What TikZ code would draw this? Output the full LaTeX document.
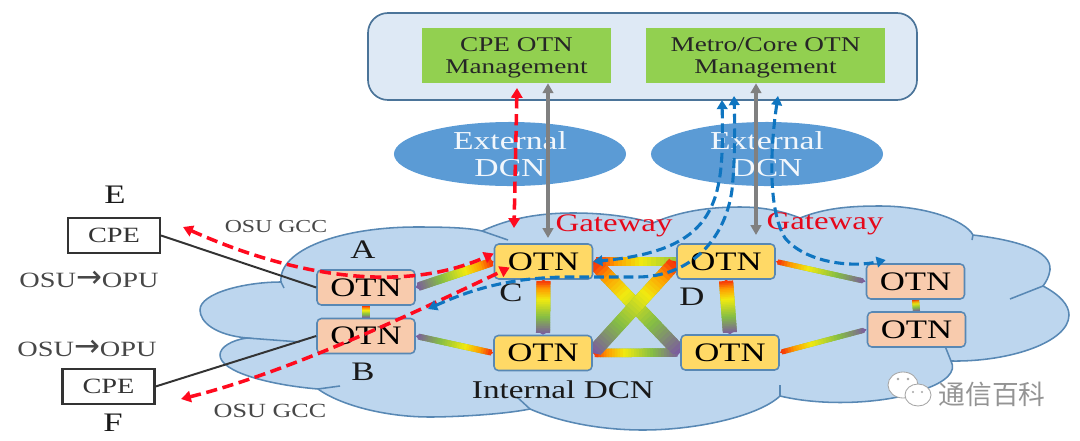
\documentclass[tikz,border=0pt]{standalone}
\usepackage{fontspec}
\setmainfont[FakeStretch=1.3]{Liberation Serif}
\newfontfamily\cjkfont{Noto Sans CJK SC}
\newfontfamily\arrowfont{DejaVu Sans}
\usetikzlibrary{shapes.geometric,arrows.meta,backgrounds,calc}
\definecolor{cloudfill}{RGB}{189,214,238}
\definecolor{cloudline}{RGB}{88,136,180}
\definecolor{topfill}{RGB}{222,233,245}
\definecolor{mgmtfill}{RGB}{146,208,80}
\definecolor{dcnfill}{RGB}{91,155,213}
\definecolor{cpefill}{RGB}{248,203,173}
\definecolor{corefill}{RGB}{255,217,102}
\definecolor{flowred}{RGB}{255,10,30}
\definecolor{flowblue}{RGB}{15,117,192}
\definecolor{linkpurple}{RGB}{123,92,158}
\definecolor{linkgreen}{RGB}{132,189,69}
\definecolor{linkyellow}{RGB}{240,234,16}
\definecolor{linkorange}{RGB}{255,154,0}
\definecolor{linkred}{RGB}{245,48,10}
\newcommand{\setsegcol}[1]{
  \ifdim#1pt<.3pt
    \pgfmathsetmacro{\p}{100*#1/.3}\colorlet{segcol}{linkgreen!\p!linkpurple}
  \else\ifdim#1pt<.62pt
    \pgfmathsetmacro{\p}{100*(#1-.3)/.32}\colorlet{segcol}{linkyellow!\p!linkgreen}
  \else\ifdim#1pt<.82pt
    \pgfmathsetmacro{\p}{100*(#1-.62)/.2}\colorlet{segcol}{linkorange!\p!linkyellow}
  \else
    \pgfmathsetmacro{\p}{100*(#1-.82)/.14}\colorlet{segcol}{linkred!\p!linkorange}
  \fi\fi\fi
}
\newcommand{\otnsegs}[5]{
  \foreach \i in {#4,...,#5}{
    \pgfmathsetmacro{\ta}{(\i-1)/32}
    \pgfmathsetmacro{\tb}{min(\i/32+.01,1)}
    \setsegcol{\ta}
    \draw[line width=#3,segcol] ($(#1)!\ta!(#2)$) -- ($(#1)!\tb!(#2)$);
  }
}
% purple end first, red end second
\newcommand{\otnlink}[3]{
  \draw[line width=#3,linkgreen] (#1) -- (#2);
  \otnsegs{#1}{#2}{#3}{1}{32}
}
\newcommand{\otnarrow}[3]{
  \draw[linktips,line width=#3] (#1) -- (#2);
  \otnsegs{#1}{#2}{#3}{2}{31}
}
\tikzset{x=.025cm}
\tikzset{y=-.025cm}
\tikzstyle{linktips}=[{Triangle[length=3pt,width=0pt 1,color=linkpurple]}-{Triangle[length=3pt,width=0pt 1,color=linkred]},linkgreen]
\tikzstyle{cloud}=[line width=1.1pt,draw=cloudline]
\tikzstyle{otn}=[draw=cloudline,line width=1.1pt,rounded corners=.11cm,minimum width=2.45cm,minimum height=.875cm,inner sep=0pt,font=\fontsize{19}{19}\selectfont]
\tikzstyle{cpeotn}=[otn,fill=cpefill]
\tikzstyle{coreotn}=[otn,fill=corefill]
\tikzstyle{mgmt}=[fill=mgmtfill,align=center,inner sep=0pt,minimum height=1.375cm,font=\fontsize{14.9}{16}\selectfont,text=black!85]
\tikzstyle{dcn}=[ellipse,fill=dcnfill,minimum width=5.8cm,minimum height=1.6cm,inner sep=0pt,align=center,text=white!92!dcnfill,font=\fontsize{18.4}{19}\selectfont]
\tikzstyle{cpe}=[draw=black!80,line width=1.5pt,minimum width=2.3cm,minimum height=.875cm,inner sep=0pt,font=\fontsize{15.5}{16}\selectfont,text=black!80]
\tikzstyle{letter}=[font=\fontsize{19}{19}\selectfont,text=black!90,inner sep=0pt]
\tikzstyle{note}=[text=black!72,inner sep=0pt]
\tikzstyle{gate}=[text=flowred!90!black,inner sep=0pt,font=\fontsize{18}{18}\selectfont]
\tikzstyle{mgmtflow}=[{Triangle[length=7pt,width=7.5pt]}-{Triangle[length=7pt,width=7.5pt]},line width=2.5pt,black!50]
\tikzstyle{redflow}=[{Triangle[length=7pt,width=8pt]}-{Triangle[length=7pt,width=8pt]},flowred,line width=2.5pt,dash pattern=on 8pt off 4pt]
\tikzstyle{blueflow}=[{Triangle[length=6.5pt,width=7.5pt]}-{Triangle[length=6.5pt,width=7.5pt]},flowblue,line width=2.2pt,dash pattern=on 7pt off 3.5pt]
\newcommand{\wing}{{\arrowfont\fontsize{22}{22}\selectfont →}}
\begin{document}
\begin{tikzpicture}
  \useasboundingbox (0,0) rectangle (1080,441);

  %% OTN nodes
  \draw (366,287.5) node[cpeotn] (otnA) {OTN};
  \draw (366,336) node[cpeotn] (otnB) {OTN};
  \draw (543.5,261.5) node[coreotn] (otnC) {OTN};
  \draw (726,261.5) node[coreotn] (otnD) {OTN};
  \draw (543,353) node[coreotn] (otnL) {OTN};
  \draw (730,352.5) node[coreotn] (otnM) {OTN};
  \draw (915.5,281.5) node[cpeotn] (otnR) {OTN};
  \draw (916.5,329.5) node[cpeotn] (otnS) {OTN};

  \begin{pgfonlayer}{background}
    %% Cloud
    \draw[cloud,fill=cloudfill] (281,282)
      .. controls (278,250) and (340,227) .. (417,227)
      .. controls (450,227) and (470,228) .. (482,231)
      .. controls (510,218) and (540,213) .. (573,213)
      .. controls (610,213) and (635,218) .. (653,223)
      .. controls (680,211) and (710,207) .. (740,207)
      .. controls (765,207) and (785,212) .. (800,218)
      .. controls (825,208) and (850,206) .. (880,206)
      .. controls (925,206) and (965,220) .. (973,235)
      .. controls (1015,240) and (1052,250) .. (1050,270)
      .. controls (1049,277) and (1046,282) .. (1043,286)
      .. controls (1060,295) and (1069,305) .. (1069,315)
      .. controls (1069,342) and (1010,362) .. (951,361)
      .. controls (957,372) and (945,382) .. (925,389)
      .. controls (895,402) and (830,408) .. (780,396)
      .. controls (760,415) and (700,430) .. (643,430)
      .. controls (600,430) and (560,422) .. (530,409)
      .. controls (500,415) and (450,417) .. (430,417)
      .. controls (385,417) and (340,405) .. (318,389)
      .. controls (270,385) and (220,372) .. (220,355)
      .. controls (220,347) and (232,340) .. (247,338)
      .. controls (215,335) and (200,322) .. (200,310)
      .. controls (200,293) and (245,282) .. (281,282) -- cycle;
    \draw[cloud] (281,282) -- (284,288);
    \draw[cloud] (482,231) -- (508,240);
    \draw[cloud] (973,235) -- (972,240);
    \draw[cloud] (1043,286) -- (1010,299);
    \draw[cloud] (951,361) -- (945,346);
    \draw[cloud] (780,396) -- (780,385);
    \draw[cloud] (530,409) -- (517,397);
    \draw[cloud] (318,389) -- (340,386);
    \draw[cloud] (247,338) -- (300,342);

    %% Gradient links
    \otnarrow{otnA.east}{otnC.west}{6pt}
    \otnarrow{otnB.east}{otnL.west}{4.2pt}
    \otnlink{otnB.north}{otnA.south}{5pt}
    \otnarrow{otnL.north}{otnC.south}{10pt}
    \otnarrow{otnM.north}{otnD.south}{10pt}
    \otnarrow{otnM.west}{otnL.east}{6pt}
    \otnarrow{otnD.center}{otnC.east}{6pt}
    \otnarrow{otnM.west}{otnC.east}{10pt}
    \otnarrow{otnL.east}{otnD.west}{10pt}
    \otnarrow{otnR.west}{otnD.east}{3.6pt}
    \otnarrow{otnS.west}{otnM.east}{3.6pt}
    \otnlink{otnS.north}{otnR.south}{5pt}
  \end{pgfonlayer}

  %% Management
  \draw[draw=cloudline!85!black,fill=topfill,line width=1.2pt,rounded corners=.5cm] (368,13) rectangle (917,100);
  \draw (516.5,55.5) node[mgmt,minimum width=4.725cm] (cpeMgmt) {\rule{0pt}{13pt}CPE OTN\\Management};
  \draw (765.5,55.5) node[mgmt,minimum width=5.975cm] (coreMgmt) {\rule{0pt}{13pt}Metro/Core OTN\\Management};
  \draw (510,154) node[dcn] (dcnA) {External\\DCN};
  \draw (767,154) node[dcn] (dcnB) {External\\DCN};

  %% CPE side
  \draw (114,235.5) node[cpe] (cpeE) {CPE};
  \draw (108.5,386.5) node[cpe] (cpeF) {CPE};
  \draw[line width=1.4pt,black!80] (cpeE.east) -- (otnA.west);
  \draw[line width=1.4pt,black!80] (cpeF.east) -- (otnB.west);

  %% Letters and texts
  \draw (363,250) node[letter] (labA) {A};
  \draw (363,372) node[letter] (labB) {B};
  \draw (511,293) node[letter] (labC) {C};
  \draw (692,297) node[letter] (labD) {D};
  \draw (115,195) node[letter] (labE) {E};
  \draw (113,423) node[letter] (labF) {F};
  \draw (614,226) node[gate] (gateA) {Gateway};
  \draw (825,224) node[gate] (gateB) {Gateway};
  \draw (89,279) node[note,font=\fontsize{15.5}{16}\selectfont] (mapE) {OSU\wing OPU};
  \draw (87,348) node[note,font=\fontsize{15.5}{16}\selectfont] (mapF) {OSU\wing OPU};
  \draw (276,227) node[note,font=\fontsize{13}{14}\selectfont] (gccE) {OSU GCC};
  \draw (270,411) node[note,font=\fontsize{14.3}{15}\selectfont] (gccF) {OSU GCC};
  \draw (563,390) node[letter,font=\fontsize{18.2}{19}\selectfont] (dcnIn) {Internal DCN};

  %% Free ends
  \coordinate (gwA) at (548,238);
  \coordinate (gwB) at (756,235);
  \coordinate (redTop) at (517,88);
  \coordinate (redGw) at (514,228);
  \coordinate (redE) at (183,227);
  \coordinate (redF) at (181,399);
  \coordinate (blueA) at (722,100);
  \coordinate (blueB) at (734,96);
  \coordinate (blueC) at (778,96);
  \coordinate (blueW) at (428,309);

  %% Management channels
  \draw[mgmtflow] (gwA |- cpeMgmt.south) -- (gwA);
  \draw[mgmtflow] (gwB |- coreMgmt.south) -- (gwB);
  \draw[redflow] (redTop) -- (redGw);
  \draw[redflow] (redE) .. controls (290,275) and (400,295) .. ([yshift=.2cm]otnC.west);
  \draw[redflow] (redF) .. controls (290,372) and (420,310) .. ([shift={(.4cm,-.15cm)}]otnC.west);
  \draw[blueflow] (blueA) .. controls (724,200) and (720,250) .. (otnC.east);
  \draw[blueflow] (blueW) .. controls (470,290) and (510,277) .. (570,277) -- (637,277)
    .. controls (690,277) and (725,240) .. (732,190) .. controls (735,160) and (735,130) .. (blueB);
  \draw[blueflow] (blueC) .. controls (770,150) and (768,210) .. (785,238)
    .. controls (805,262) and (850,268) .. ([shift={(.5cm,.08cm)}]otnR.north west);

  %% Watermark
  \draw[black!35,fill=white,line width=.6pt] (903,385) ellipse (15 and 13);
  \draw[black!35,fill=white,line width=.6pt] (918,395) ellipse (13 and 11);
  \fill[black!35] (898,379) circle (1.3) (908,379) circle (1.3) (913,392) circle (1.2) (922,392) circle (1.2);
  \draw (992,394) node[inner sep=0pt,text=black!42,font=\cjkfont\fontsize{19}{19}\selectfont] (mark) {通信百科};
\end{tikzpicture}
\end{document}
